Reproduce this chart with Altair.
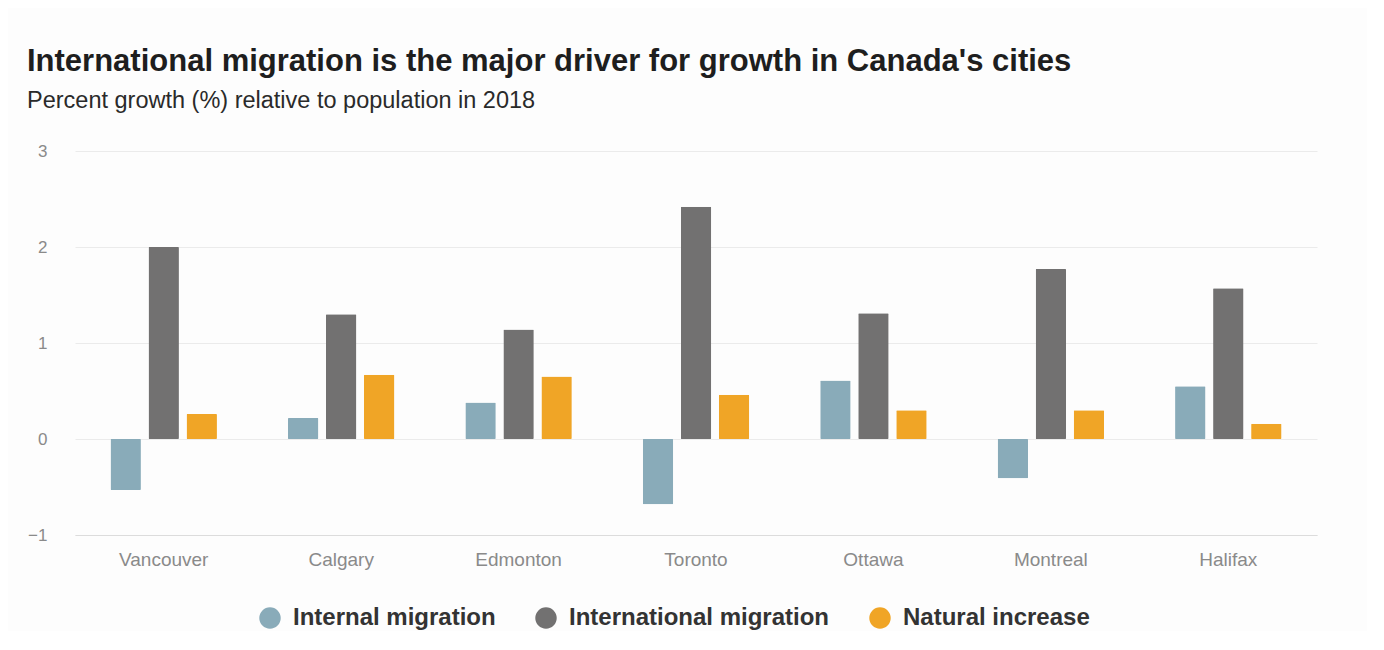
import altair as alt
import pandas as pd

cities = ["Vancouver", "Calgary", "Edmonton", "Toronto", "Ottawa", "Montreal", "Halifax"]
series = ["Internal migration", "International migration", "Natural increase"]
internal = [-0.53, 0.22, 0.38, -0.68, 0.61, -0.41, 0.55]
international = [2.0, 1.30, 1.14, 2.42, 1.31, 1.77, 1.57]
natural = [0.26, 0.67, 0.65, 0.46, 0.30, 0.30, 0.16]
colors = ["#89abb9", "#727171", "#f0a526"]
y_ticks = [-1, 0, 1, 2, 3]

rows = []
for i, c in enumerate(cities):
    for s, vals in zip(series, [internal, international, natural]):
        rows.append({"city": c, "series": s, "value": vals[i]})
df = pd.DataFrame(rows)

chart = alt.Chart(df).mark_bar(cornerRadius=1).encode(
    x=alt.X("city:N", sort=cities, title=None,
            scale=alt.Scale(paddingInner=0.4, paddingOuter=0.2),
            axis=alt.Axis(labelAngle=0, labelFontSize=19, labelColor="#8a8a8a",
                          labelFont="Liberation Sans", labelPadding=15, ticks=False,
                          domainColor="#dcdcdc", domainWidth=1.2, grid=False)),
    xOffset=alt.XOffset("series:N", sort=series,
                        scale=alt.Scale(paddingInner=0.2)),
    y=alt.Y("value:Q", title=None,
            scale=alt.Scale(domain=[-1, 3], nice=False),
            axis=alt.Axis(values=y_ticks, labelFontSize=17, labelColor="#8a8a8a",
                          labelFont="Liberation Sans", labelPadding=28, ticks=False,
                          domain=False, gridColor="#ebebeb", gridWidth=1.2, format="d")),
    color=alt.Color("series:N", sort=series,
                    scale=alt.Scale(domain=series, range=colors),
                    legend=alt.Legend(title=None, orient="none", direction="horizontal",
                                      legendX=183, legendY=455,
                                      symbolType="circle", symbolSize=460,
                                      symbolStrokeWidth=0, labelLimit=0,
                                      labelFontSize=24, labelFontWeight="bold",
                                      labelColor="#333333", labelFont="Liberation Sans",
                                      labelOffset=11, columnPadding=38)),
).properties(
    width=1242,
    height=384,
    title=alt.Title(
        "International migration is the major driver for growth in Canada's cities",
        subtitle="Percent growth (%) relative to population in 2018",
        anchor="start", frame="group", dx=-48, offset=29,
        font="Liberation Sans", fontSize=31, fontWeight="bold", color="#1e1e1e",
        subtitleFont="Liberation Sans", subtitleFontSize=23.5, subtitleColor="#2a2a2a",
        subtitlePadding=11,
    ),
    autosize=alt.AutoSizeParams(type="none"),
    padding={"left": 67, "top": 143, "right": 50, "bottom": 96},
    background="#fdfdfd",
).configure_view(stroke=None)

chart.save("out.html", embed_options={"renderer": "svg", "actions": False})
